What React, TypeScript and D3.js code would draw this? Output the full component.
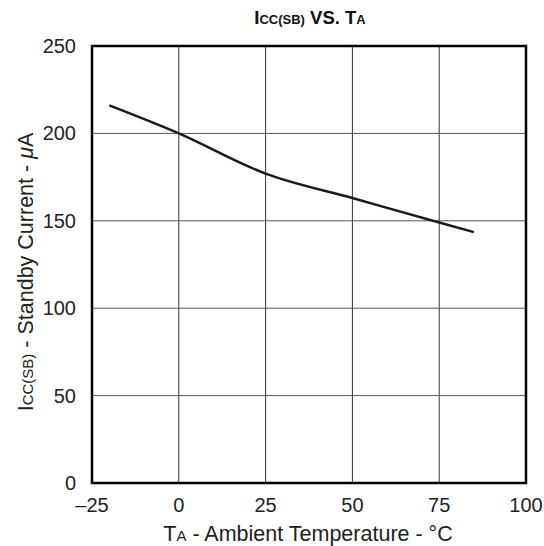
import React from "react";
import * as d3 from "d3";

const temps = [-20, 0, 25, 50, 75, 85];
const currents = [216, 200, 177, 163, 149, 143.5];
const xTicks = [-25, 0, 25, 50, 75, 100];
const yTicks = [0, 50, 100, 150, 200, 250];

export default function App() {
  const W = 544, H = 546;
  const m = { left: 92, right: 526, top: 46, bottom: 483 };
  const x = d3.scaleLinear().domain([-25, 100]).range([m.left, m.right]);
  const y = d3.scaleLinear().domain([0, 250]).range([m.bottom, m.top]);
  const pts = temps.map((t, i) => [t, currents[i]] as [number, number]);
  const line = d3.line<[number, number]>().x(d => x(d[0])).y(d => y(d[1])).curve(d3.curveMonotoneX);
  const font = "'Liberation Sans', Arial, sans-serif";
  return (
    <svg width={W} height={H} style={{ position: "absolute", left: 0, top: 0 }} fontFamily={font}>
      <rect width={W} height={H} fill="#fff" />
      {xTicks.slice(1, -1).map(t => (
        <line key={"gx" + t} x1={x(t)} x2={x(t)} y1={m.top} y2={m.bottom} stroke="#333" strokeWidth={1} />
      ))}
      {yTicks.slice(1, -1).map(t => (
        <line key={"gy" + t} x1={m.left} x2={m.right} y1={y(t)} y2={y(t)} stroke="#555" strokeWidth={1} />
      ))}
      <rect x={m.left} y={m.top} width={m.right - m.left} height={m.bottom - m.top} fill="none" stroke="#000" strokeWidth={2.5} />
      <path d={line(pts) || ""} fill="none" stroke="#1a1a1a" strokeWidth={2.5} />
      {xTicks.map(t => (
        <text key={"tx" + t} x={x(t)} y={512} textAnchor="middle" fontSize={20} fill="#222">
          {t < 0 ? "\u2013" + Math.abs(t) : t}
        </text>
      ))}
      {yTicks.map(t => (
        <text key={"ty" + t} x={76} y={y(t) + 7} textAnchor="end" fontSize={20} fill="#222">{t}</text>
      ))}
      <text x={310} y={24} textAnchor="middle" fontSize={18.5} fontWeight="bold" fill="#111">
        I<tspan fontSize={13}>CC(SB)</tspan> VS. T<tspan fontSize={13}>A</tspan>
      </text>
      <text x={308} y={541} textAnchor="middle" fontSize={21.5} fill="#222">
        T<tspan fontSize={15}>A</tspan> - Ambient Temperature - °C
      </text>
      <text transform={`translate(33, 272) rotate(-90)`} textAnchor="middle" fontSize={21.5} fill="#222">
        I<tspan fontSize={15}>CC(SB)</tspan> - Standby Current - <tspan fontStyle="italic">μ</tspan>A
      </text>
    </svg>
  );
}
